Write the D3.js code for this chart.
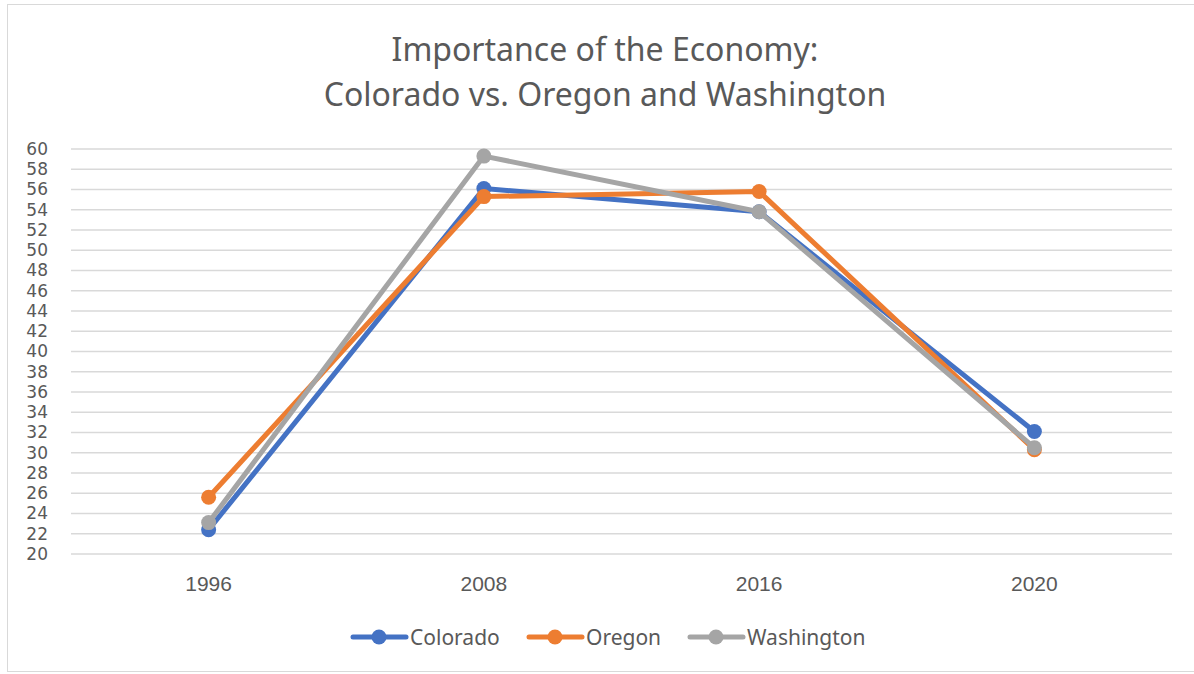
<!DOCTYPE html>
<html>
<head>
<meta charset="utf-8">
<script src="https://cdn.jsdelivr.net/npm/d3@7"></script>
<style>
	body { margin: 0; background: #fff; }
	svg { display: block; font-family: "Noto Sans", "Open Sans", sans-serif; }
	.axis text { fill: #595959; font-size: 21px; }
	.axis--y text { font-family: "DejaVu Sans", sans-serif; font-size: 17px; }
	.grid line { stroke: #d9d9d9; stroke-width: 1.3; }
</style>
</head>
<body>
<svg id="chart" width="1194" height="674"></svg>
<script>
(function() {

	// DATA
	var years = ['1996', '2008', '2016', '2020']
	var colorado = [22.4, 56.1, 53.8, 32.1]
	var oregon = [25.6, 55.3, 55.8, 30.3]
	var washington = [23.1, 59.3, 53.8, 30.5]
	var yTicks = d3.range(20, 61, 2)

	var seriesNames = ['Colorado', 'Oregon', 'Washington']
	var colors = ['#4472C4', '#ED7D31', '#A5A5A5']
	var series = [colorado, oregon, washington].map(function(vals, i) {
		return { name: seriesNames[i], color: colors[i], values: vals }
	})

	var margin = { top: 149, left: 71, right: 22, bottom: 120 }
	var W = 1194, H = 674
	var width = W - margin.left - margin.right
	var height = 554 - margin.top

	var svg = d3.select('#chart')

	// frame
	svg.append('rect')
		.attr('x', 7.5).attr('y', 4.5)
		.attr('width', W).attr('height', H - 7)
		.attr('fill', 'none').attr('stroke', '#d9d9d9')

	// title
	var titleLines = ['Importance of the Economy:', 'Colorado vs. Oregon and Washington']
	svg.selectAll('.title').data(titleLines).enter().append('text')
		.attr('class', 'title')
		.attr('x', 605).attr('y', function(d, i) { return 61 + i * 45 })
		.attr('text-anchor', 'middle')
		.attr('fill', '#595959')
		.style('font-size', '32px')
		.text(function(d) { return d })

	var g = svg.append('g').attr('transform', 'translate(' + margin.left + ',' + margin.top + ')')

	var x = d3.scaleBand().domain(years).range([0, width])
	var y = d3.scaleLinear().domain([20, 60]).range([height, 0])

	// gridlines
	g.append('g').attr('class', 'grid')
		.selectAll('line').data(yTicks).enter().append('line')
		.attr('x1', 0).attr('x2', width)
		.attr('y1', function(d) { return y(d) }).attr('y2', function(d) { return y(d) })

	var axisY = d3.axisLeft(y).tickValues(yTicks).tickSize(0).tickPadding(23)
	g.append('g').attr('class', 'axis axis--y').call(axisY)
		.call(function(s) { s.select('.domain').remove() })

	var axisX = d3.axisBottom(x).tickSize(0).tickPadding(22)
	g.append('g').attr('class', 'axis axis--x')
		.attr('transform', 'translate(0,' + height + ')')
		.call(axisX)
		.call(function(s) { s.select('.domain').remove() })

	var cx = function(i) { return x(years[i]) + x.bandwidth() / 2 }
	var line = d3.line()
		.x(function(d, i) { return cx(i) })
		.y(function(d) { return y(d) })

	var layer = g.selectAll('.series').data(series).enter().append('g').attr('class', 'series')

	layer.append('path')
		.attr('d', function(d) { return line(d.values) })
		.attr('fill', 'none')
		.attr('stroke', function(d) { return d.color })
		.attr('stroke-width', 5)
		.attr('stroke-linecap', 'round')
		.attr('stroke-linejoin', 'round')

	layer.selectAll('circle').data(function(d) {
		return d.values.map(function(v) { return { v: v, color: d.color } })
	}).enter().append('circle')
		.attr('cx', function(d, i) { return cx(i) })
		.attr('cy', function(d) { return y(d.v) })
		.attr('r', 7.5)
		.attr('fill', function(d) { return d.color })

	// legend
	var legendX = [351, 527, 688]
	var legend = svg.selectAll('.legend').data(series).enter().append('g')
		.attr('class', 'legend')
		.attr('transform', function(d, i) { return 'translate(' + legendX[i] + ',637)' })

	legend.append('line')
		.attr('x1', 2).attr('x2', 55).attr('y1', 0).attr('y2', 0)
		.attr('stroke', function(d) { return d.color })
		.attr('stroke-width', 5)
		.attr('stroke-linecap', 'round')
	legend.append('circle')
		.attr('cx', 28).attr('cy', 0).attr('r', 7.5)
		.attr('fill', function(d) { return d.color })
	legend.append('text')
		.attr('x', 59).attr('y', 7.5)
		.attr('fill', '#595959')
		.style('font-size', '21px')
		.text(function(d) { return d.name })

})()
</script>
</body>
</html>
